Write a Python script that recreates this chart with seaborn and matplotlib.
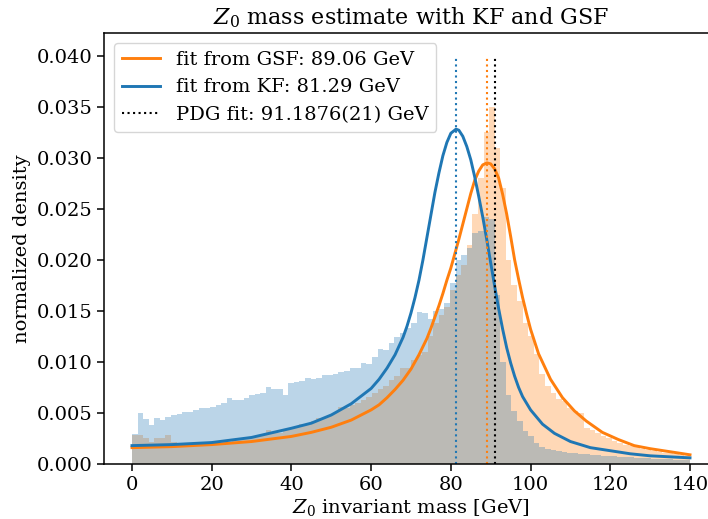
import numpy as np
import pandas as pd
import seaborn as sns
import matplotlib.pyplot as plt
import matplotlib as mpl

# histogram binning (100 bins over 0-140 GeV)
mass_range = (0, 140)
n_bins = 100

# normalized densities
kf_density = [
    0.0029, 0.0050, 0.0044, 0.0038, 0.0045, 0.0043, 0.0046, 0.0048, 0.0049, 0.0051,
    0.0051, 0.0053, 0.0055, 0.0055, 0.0056, 0.0058, 0.0060, 0.0065, 0.0063, 0.0063,
    0.0065, 0.0068, 0.0069, 0.0070, 0.0075, 0.0073, 0.0073, 0.0068, 0.0079, 0.0080,
    0.0081, 0.0084, 0.0083, 0.0084, 0.0087, 0.0087, 0.0088, 0.0090, 0.0091, 0.0094,
    0.0094, 0.0099, 0.0098, 0.0105, 0.0113, 0.0112, 0.0119, 0.0124, 0.0128, 0.0133,
    0.0138, 0.0149, 0.0148, 0.0142, 0.0150, 0.0152, 0.0158, 0.0177, 0.0200, 0.0205,
    0.0212, 0.0226, 0.0228, 0.0242, 0.0240, 0.0166, 0.0100, 0.0068, 0.0052, 0.0042,
    0.0032, 0.0027, 0.0021, 0.0017, 0.0015, 0.0014, 0.0013, 0.0012, 0.0011, 0.0011,
    0.0010, 0.0010, 0.0009, 0.0009, 0.0008, 0.0008, 0.0008, 0.0007, 0.0007, 0.0007,
    0.0006, 0.0006, 0.0006, 0.0005, 0.0005, 0.0005, 0.0005, 0.0004, 0.0004, 0.0004,
]
gsf_density = [
    0.0028, 0.0028, 0.0025, 0.0022, 0.0025, 0.0025, 0.0028, 0.0022, 0.0021, 0.0020,
    0.0020, 0.0021, 0.0020, 0.0021, 0.0021, 0.0022, 0.0021, 0.0022, 0.0024, 0.0025,
    0.0024, 0.0026, 0.0027, 0.0029, 0.0033, 0.0031, 0.0030, 0.0033, 0.0035, 0.0036,
    0.0039, 0.0038, 0.0042, 0.0045, 0.0045, 0.0048, 0.0050, 0.0056, 0.0055, 0.0058,
    0.0060, 0.0063, 0.0066, 0.0070, 0.0073, 0.0076, 0.0082, 0.0086, 0.0094, 0.0094,
    0.0102, 0.0107, 0.0110, 0.0125, 0.0138, 0.0146, 0.0154, 0.0170, 0.0185, 0.0195,
    0.0215, 0.0245, 0.0280, 0.0325, 0.0350, 0.0310, 0.0270, 0.0200, 0.0175, 0.0160,
    0.0138, 0.0125, 0.0108, 0.0088, 0.0076, 0.0070, 0.0064, 0.0062, 0.0055, 0.0052,
    0.0050, 0.0035, 0.0033, 0.0030, 0.0027, 0.0025, 0.0023, 0.0021, 0.0019, 0.0018,
    0.0017, 0.0015, 0.0014, 0.0013, 0.0012, 0.0011, 0.0011, 0.0010, 0.0009, 0.0008,
]

# fitted curves
kf_fit_mass = [0, 10, 20, 30, 40, 45, 50, 55, 60, 62, 64, 66, 68, 69, 70, 71, 72, 73,
               74, 75, 76, 77, 78, 79, 80, 81.29, 82, 83, 84, 85, 86, 87, 88, 89, 90,
               91, 92, 93, 94, 95, 96, 97, 98, 100, 103, 106, 110, 115, 120, 125, 130,
               135, 140]
kf_fit_density = [0.0018, 0.0019, 0.0021, 0.0026, 0.0035, 0.0040, 0.0048, 0.0059, 0.0074,
                  0.0083, 0.0094, 0.0107, 0.0124, 0.0135, 0.0148, 0.0163, 0.0180, 0.0200,
                  0.0222, 0.0244, 0.0266, 0.0285, 0.0302, 0.0315, 0.0324, 0.0328, 0.0327,
                  0.0321, 0.0311, 0.0298, 0.0281, 0.0262, 0.0242, 0.0220, 0.0197, 0.0174,
                  0.0152, 0.0132, 0.0114, 0.0099, 0.0086, 0.0075, 0.0066, 0.0053, 0.0039,
                  0.0030, 0.0022, 0.0016, 0.0013, 0.0010, 0.0008, 0.0007, 0.0006]
gsf_fit_mass = [0, 10, 20, 30, 40, 45, 50, 55, 60, 62, 64, 66, 68, 70, 71, 72, 73, 74,
                75, 76, 77, 78, 79, 80, 81, 82, 83, 84, 85, 86, 87, 88, 89.06, 90, 91,
                92, 93, 94, 95, 96, 97, 98, 99, 100, 102, 105, 108, 111, 114, 118, 122,
                126, 130, 135, 140]
gsf_fit_density = [0.0016, 0.0017, 0.0019, 0.0022, 0.0027, 0.0031, 0.0036, 0.0043, 0.0053,
                   0.0058, 0.0065, 0.0073, 0.0082, 0.0093, 0.0100, 0.0107, 0.0115, 0.0123,
                   0.0133, 0.0144, 0.0155, 0.0167, 0.0180, 0.0192, 0.0206, 0.0220, 0.0235,
                   0.0250, 0.0265, 0.0278, 0.0287, 0.0293, 0.0295, 0.0294, 0.0289, 0.0280,
                   0.0264, 0.0245, 0.0223, 0.0200, 0.0181, 0.0163, 0.0147, 0.0132, 0.0108,
                   0.0083, 0.0065, 0.0052, 0.0042, 0.0031, 0.0024, 0.0018, 0.0015, 0.0012,
                   0.0009]

kf_peak = 81.29
gsf_peak = 89.06
pdg_mass = 91.1876

# plain matplotlib look with serif text
mpl.rcParams['font.family'] = 'serif'
mpl.rcParams['font.serif'] = ['DejaVu Serif']
mpl.rcParams['mathtext.fontset'] = 'dejavuserif'
mpl.rcParams['axes.labelsize'] = 14
mpl.rcParams['axes.titlesize'] = 16
mpl.rcParams['xtick.labelsize'] = 14
mpl.rcParams['ytick.labelsize'] = 14
mpl.rcParams['legend.fontsize'] = 14
mpl.rcParams['axes.linewidth'] = 1.1
mpl.rcParams['xtick.major.size'] = 5
mpl.rcParams['ytick.major.size'] = 5
mpl.rcParams['xtick.major.width'] = 1.1
mpl.rcParams['ytick.major.width'] = 1.1

fig, ax = plt.subplots(figsize=(7.08, 5.19), dpi=100)
plt.subplots_adjust(left=0.147, right=1.014, bottom=0.106, top=0.936)

bin_edges = np.linspace(mass_range[0], mass_range[1], n_bins + 1)
hist_df = pd.DataFrame({
    'mass': (bin_edges[:-1] + bin_edges[1:]) / 2,
    'GSF': gsf_density,
    'KF': kf_density,
})
binwidth = (mass_range[1] - mass_range[0]) / n_bins

# histograms: GSF first, KF on top
sns.histplot(data=hist_df, x='mass', weights='GSF', binwidth=binwidth, binrange=mass_range,
             color='C1', alpha=0.3, edgecolor='none', linewidth=0, ax=ax)
sns.histplot(data=hist_df, x='mass', weights='KF', binwidth=binwidth, binrange=mass_range,
             color='C0', alpha=0.3, edgecolor='none', linewidth=0, ax=ax)

# fitted curves
l_gsf, = ax.plot(gsf_fit_mass, gsf_fit_density, color='C1', lw=2.1)
l_kf, = ax.plot(kf_fit_mass, kf_fit_density, color='C0', lw=2.1)

# peak markers
ax.vlines(kf_peak, 0, 0.04, colors='C0', linestyles=':', lw=1.5)
ax.vlines(gsf_peak, 0, 0.04, colors='C1', linestyles=':', lw=1.5)
l_pdg = ax.vlines(pdg_mass, 0, 0.04, colors='black', linestyles=':', lw=1.5)

ax.legend([l_gsf, l_kf, l_pdg],
          ['fit from GSF: 89.06 GeV', 'fit from KF: 81.29 GeV', 'PDG fit: 91.1876(21) GeV'],
          loc='upper left')

ax.set_title('$Z_0$ mass estimate with KF and GSF')
ax.set_xlabel('$Z_0$ invariant mass [GeV]', labelpad=2)
ax.set_ylabel('normalized density')
ax.set_xticks(np.arange(0, 141, 20))
ax.set_yticks(np.arange(0, 0.0401, 0.005))
ax.set_xlim(-7, 147)
ax.set_ylim(0, 0.0422)

plt.savefig('out.png', dpi=100, facecolor='white')
